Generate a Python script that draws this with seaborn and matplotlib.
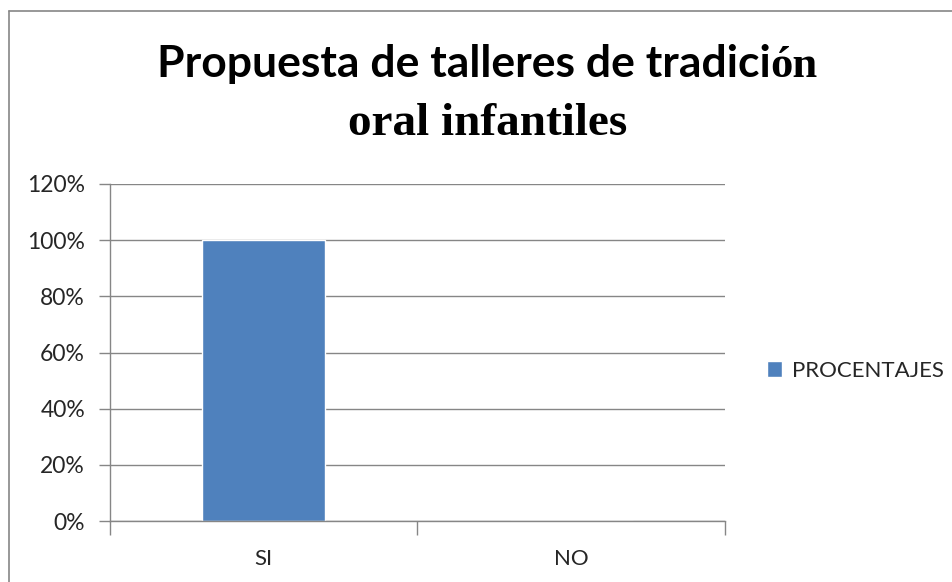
"""Gráfico de barras: propuesta de talleres de tradición oral infantiles."""
import matplotlib
matplotlib.use("Agg")
import matplotlib.pyplot as plt
import pandas as pd
import seaborn as sns
from matplotlib.lines import Line2D
from matplotlib.ticker import PercentFormatter, FixedLocator

sns.set_theme(style="white")
plt.rcParams["font.family"] = ["Lato", "DejaVu Sans"]

# datos
categorias = ["SI", "NO"]
porcentajes = [1.0, 0.0]
serie = "PROCENTAJES"
yticks = [0.0, 0.2, 0.4, 0.6, 0.8, 1.0, 1.2]

W, H = 953, 582
AZUL = "#4F81BD"
GRIS = "#868686"

df = pd.DataFrame({"categoria": categorias, "valor": porcentajes})

fig = plt.figure(figsize=(W / 100, H / 100), dpi=100)
ax = fig.add_axes([110 / W, 1 - 521 / H, (725 - 110) / W, (521 - 184) / H])

sns.barplot(data=df, x="categoria", y="valor", color=AZUL, width=0.4,
            saturation=1, label=serie, ax=ax)

ax.set_ylim(0, 1.2)
ax.set_xlim(-0.5, 1.5)
ax.set_yticks(yticks)
ax.yaxis.set_major_formatter(PercentFormatter(xmax=1, decimals=0))
ax.yaxis.grid(True, color=GRIS, linewidth=1)
ax.set_axisbelow(True)
ax.set(xlabel="", ylabel="")

for side in ["top", "right"]:
    ax.spines[side].set_visible(False)
for side in ["left", "bottom"]:
    ax.spines[side].set_color(GRIS)
    ax.spines[side].set_linewidth(1)

ax.tick_params(axis="y", which="major", left=True, length=8, color=GRIS,
               width=1, labelsize=16.5, pad=10)
ax.tick_params(axis="x", which="major", bottom=False, labelsize=16, pad=14)
ax.xaxis.set_minor_locator(FixedLocator([-0.5, 0.5, 1.5]))
ax.tick_params(axis="x", which="minor", bottom=True, length=10, color=GRIS, width=1)

# leyenda a la derecha (fuera del eje)
h, l = ax.get_legend_handles_labels()
if ax.get_legend() is not None:
    ax.get_legend().remove()
fig.legend(h, l, loc="center left", bbox_to_anchor=(758 / W, 1 - 371 / H),
           frameon=False, fontsize=16, handlelength=0.7, handleheight=0.7,
           handletextpad=0.45, borderaxespad=0)

# título en dos líneas con fuentes mezcladas
t1 = fig.text(157 / W, 1 - 77 / H, "Propuesta de talleres de tradici",
              ha="left", va="baseline", fontsize=32, fontweight="bold",
              color="black")
fig.canvas.draw()
bb = t1.get_window_extent()
fig.text(bb.x1 / W, 1 - 77 / H, "ón", ha="left", va="baseline", fontsize=32,
         fontweight="bold", family="Liberation Serif", color="black")
fig.text(488 / W, 1 - 135 / H, "oral infantiles", ha="center", va="baseline",
         fontsize=34, fontweight="bold", family="Liberation Serif", color="black")

# marco del área del gráfico (sólo se ven los bordes izquierdo y superior)
fig.add_artist(Line2D([9 / W, 9 / W], [0, 1 - 11 / H], color=GRIS, linewidth=1.2))
fig.add_artist(Line2D([9 / W, 1], [1 - 11 / H, 1 - 11 / H], color=GRIS, linewidth=1.2))

fig.savefig("out.png", dpi=100)
plt.close(fig)
